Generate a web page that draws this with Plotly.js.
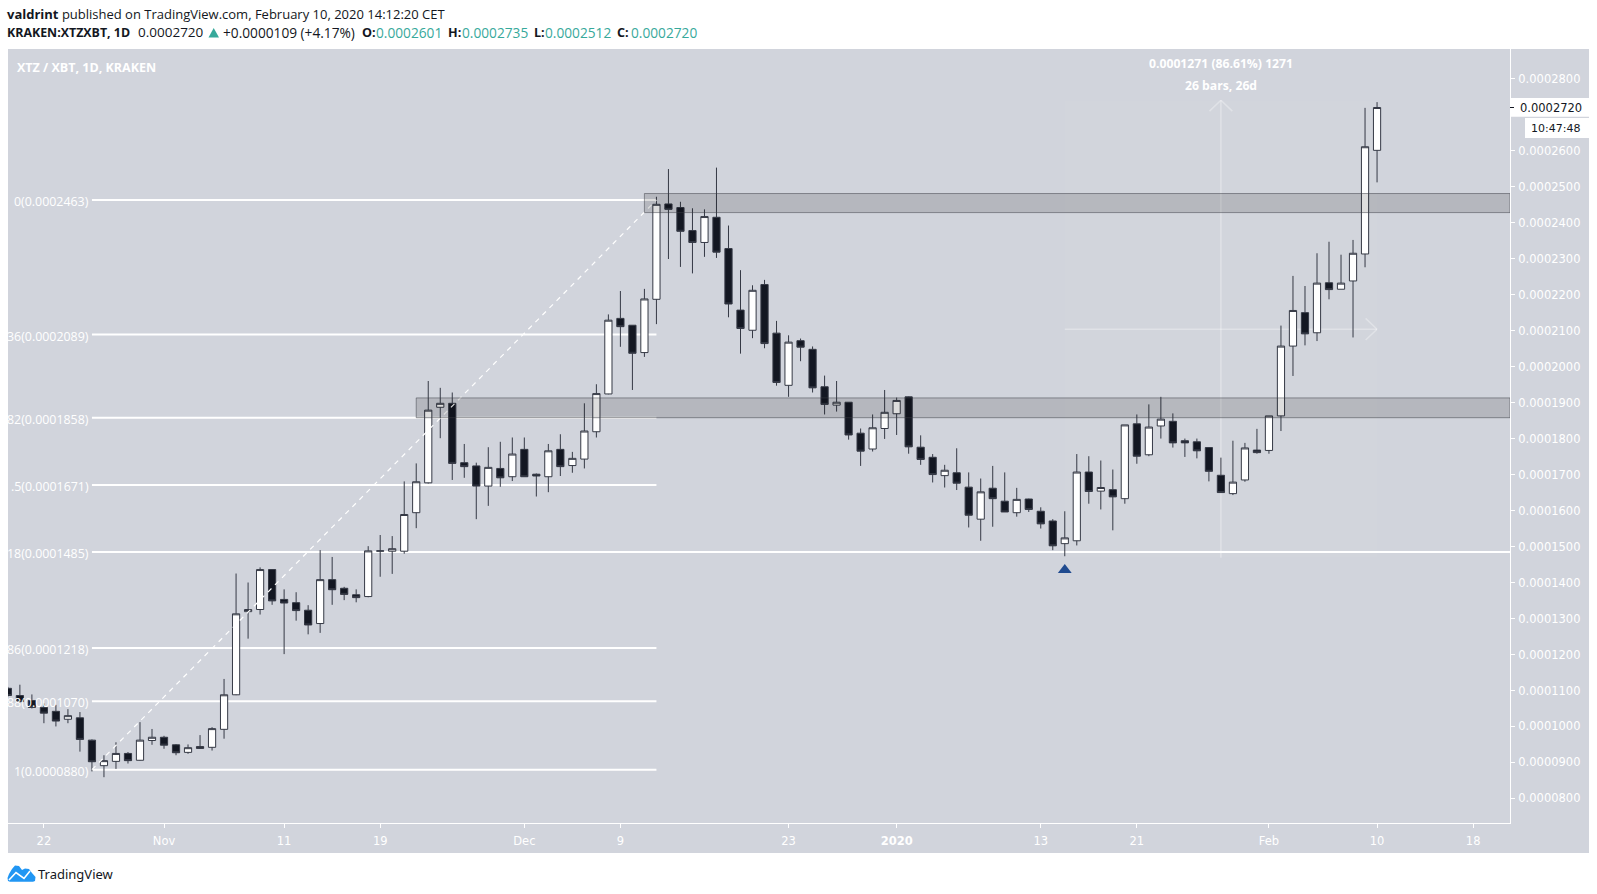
<!DOCTYPE html>
<html><head><meta charset="utf-8">
<script src="https://cdn.plot.ly/plotly-3.0.1.min.js"></script>
<style>html,body{margin:0;padding:0;background:#fff}#c{width:1597px;height:894px}</style>
</head><body><div id="c"></div>
<script>
const firstDay = '2019-10-19';
const openE7 = [1106,1086,1072,1053,1042,1020,1024,962,891,903,925,906,961,970,949,928,944,942,992,1088,1319,1325,1436,1353,1344,1323,1286,1408,1384,1366,1361,1487,1487,1487,
1594,1677,1887,1898,1733,1724,1668,1717,1694,1770,1701,1694,1770,1725,1743,1819,1924,2134,2115,2039,2187,2452,2442,2378,2345,2415,2328,2157,2101,2228,2093,1948,2072,2048,1944,1893,1901,1815,1771,1828,1869,1916,1776,1748,1697,1705,1665,1576,1662,1626,1594,1632,1598,1571,
1508,1516,1707,1654,1658,1633,1841,1755,1835,1848,1794,1791,1775,1698,1647,1685,1768,1767,1863,2057,2150,2094,2233,2215,2238,2313,2601];
const highE7 = [1110,1116,1089,1064,1060,1048,1040,964,920,956,929,1012,993,974,951,950,976,998,1132,1425,1400,1442,1437,1381,1373,1337,1490,1471,1388,1381,1501,1532,1529,1681,
1731,1960,1941,1928,1785,1733,1776,1791,1803,1803,1703,1785,1812,1763,1898,1951,2145,2210,2115,2216,2472,2549,2458,2440,2437,2553,2392,2268,2226,2241,2127,2087,2078,2056,1975,1960,1901,1828,1867,1935,1914,1917,1809,1757,1727,1773,1706,1689,1724,1706,1663,1633,1609,1576,
1598,1757,1751,1739,1714,1838,1867,1895,1916,1870,1800,1800,1775,1747,1794,1788,1827,1863,2114,2252,2224,2315,2347,2311,2352,2719,2735];
const lowE7 = [1083,1067,1050,1009,1000,1009,930,875,859,882,897,905,949,938,920,924,938,933,966,1087,1244,1311,1338,1201,1294,1256,1260,1338,1351,1345,1359,1416,1424,1480,
1551,1675,1801,1685,1691,1576,1613,1666,1682,1694,1639,1651,1696,1705,1717,1803,1923,2055,1935,2027,2118,2299,2277,2259,2305,2302,2137,2036,2079,2051,1947,1916,2015,1928,1867,1875,1797,1724,1764,1799,1810,1758,1727,1678,1664,1657,1553,1516,1555,1596,1583,1596,1550,1490,
1473,1503,1619,1603,1545,1619,1730,1751,1800,1775,1749,1745,1681,1650,1643,1680,1758,1758,1821,1974,2059,2071,2187,2215,2081,2276,2512];
const closeE7 = [1086,1069,1053,1037,1015,1030,964,902,905,925,905,962,970,948,927,941,939,994,1088,1313,1325,1436,1349,1343,1322,1282,1408,1380,1367,1358,1488,1488,1494,1589,
1680,1879,1898,1731,1722,1668,1720,1691,1757,1694,1696,1766,1722,1745,1821,1925,2129,2111,2037,2188,2451,2437,2376,2345,2417,2318,2174,2106,2212,2064,1956,2068,2054,1941,1895,1901,1810,1765,1830,1873,1906,1777,1742,1700,1712,1676,1587,1652,1633,1596,1631,1603,1563,1502,
1524,1707,1653,1664,1638,1838,1751,1832,1854,1788,1788,1766,1709,1650,1679,1774,1761,1863,2057,2156,2091,2232,2214,2232,2315,2611,2720];

const tickDates = ['2019-10-22','2019-11-01','2019-11-11','2019-11-19','2019-12-01','2019-12-09','2019-12-23','2020-01-01','2020-01-13','2020-01-21','2020-02-01','2020-02-10','2020-02-18'];
const tickLabels = ['22','Nov','11','19','Dec','9','23','<b>2020</b>','13','21','Feb','10','18'];
const priceTicks = [800,900,1000,1100,1200,1300,1400,1500,1600,1700,1800,1900,2000,2100,2200,2300,2400,2500,2600,2700,2800];

// fib tags as they show after the chart's left edge cuts them
const fibTags = ['0','36','82','.5','18','86','88','1'];
const fibPrices = [2463,2089,1858,1671,1485,1218,1070,880];
const fibFrom = '2019-10-26', fibTo = '2019-12-12';
const zonesE7 = [[2481,2428,'2019-12-11'],[1913,1858,'2019-11-22']];
const measure = {from:'2020-01-15', to:'2020-02-10', midDay:'2020-01-28', lowE7:1469, highE7:2740, midE7:2104};
const signalDay = '2020-01-15', signalE7 = 1435;

const p = v => v/1e7;
const MS = 864e5;
const t0 = Date.parse(firstDay+'T00:00:00Z');
const dates = openE7.map((_,i)=>new Date(t0+i*MS).toISOString().slice(0,10));
const iso = ms => new Date(ms).toISOString().replace('T',' ').slice(0,19);
const dd = (s,off)=>iso(Date.parse(s+'T00:00:00Z')+off*MS);
const xRange = [dd('2019-10-19',0.01), dd('2020-02-10',11.07)];
const yRange = [p(731.7), p(2882.6)];

const L=8,R=1510,T=49,B=823;
const px = x => (x-L)/(R-L), py = y => 1-(y-T)/(B-T);
const paperPath = (pts,close)=>'M '+pts.map(q=>px(q[0])+' '+py(q[1])).join(' L ')+(close?' Z':'');

const shapes=[];
const lineShape=(x0,y0,x1,y1,color,width,dash,layer)=>shapes.push({type:'line',xref:'x',yref:'y',x0,x1,y0:p(y0),y1:p(y1),line:{color,width,dash:dash||'solid'},layer:layer||'below'});
shapes.push({type:'rect',xref:'paper',yref:'paper',x0:px(8),x1:px(1589),y0:py(853),y1:py(49),fillcolor:'#d1d4dc',line:{width:0},layer:'below'});
shapes.push({type:'rect',xref:'x',yref:'y',x0:measure.from,x1:measure.to,y0:p(measure.lowE7),y1:p(measure.highE7),fillcolor:'rgba(255,255,255,0.025)',line:{width:0},layer:'below'});
fibPrices.forEach((v,i)=>lineShape(fibFrom,v,i===4?xRange[1]:fibTo,v,'#ffffff',2));
lineShape(fibFrom,880,fibTo,2463,'#ffffff',1.2,'5px,5px','above');
zonesE7.forEach(z=>shapes.push({type:'rect',xref:'x',yref:'y',x0:z[2],x1:xRange[1],y0:p(z[1]),y1:p(z[0]),fillcolor:'rgba(0,0,0,0.135)',line:{color:'rgba(60,62,70,0.5)',width:1},layer:'above'}));
const A='rgba(255,255,255,0.32)';
lineShape(measure.midDay,measure.lowE7,measure.midDay,measure.highE7,A,1.5,'solid','below');
lineShape(dd(measure.midDay,-0.95),measure.highE7-30,measure.midDay,measure.highE7,A,1.5,'solid','below');
lineShape(dd(measure.midDay,0.95),measure.highE7-30,measure.midDay,measure.highE7,A,1.5,'solid','below');
lineShape(measure.from,measure.midE7,measure.to,measure.midE7,A,1.5,'solid','below');
lineShape(dd(measure.to,-0.95),measure.midE7+30,measure.to,measure.midE7,A,1.5,'solid','below');
lineShape(dd(measure.to,-0.95),measure.midE7-30,measure.to,measure.midE7,A,1.5,'solid','below');
shapes.push({type:'rect',xref:'paper',yref:'paper',x0:px(1510.5),x1:px(1589),y0:py(116.7),y1:py(98),fillcolor:'#ffffff',line:{width:0},layer:'above'});
shapes.push({type:'rect',xref:'paper',yref:'paper',x0:px(1525),x1:px(1589),y0:py(138),y1:py(118),fillcolor:'#ffffff',line:{width:0},layer:'above'});
shapes.push({type:'line',xref:'paper',yref:'paper',x0:px(1510),x1:px(1514),y0:py(107.5),y1:py(107.5),line:{color:'#131722',width:1},layer:'above'});
shapes.push({type:'path',xref:'paper',yref:'paper',path:paperPath([[208.5,37.5],[219,37.5],[213.7,28]],true),fillcolor:'#37a99b',line:{width:0},layer:'above'});
shapes.push({type:'path',xref:'paper',yref:'paper',path:paperPath([[7.5,878],[9,874],[12,869],[15,865.5],[19,866],[22,870],[25,868.5],[29,869],[32,873],[35.5,877],[35,881],[33,881.7],[10,881.7],[8,881]],true),fillcolor:'#2196f3',line:{width:0},layer:'above'});
shapes.push({type:'path',xref:'paper',yref:'paper',path:paperPath([[9,880],[16,872.5],[24,878.5],[30,871]],false),fillcolor:'rgba(0,0,0,0)',line:{color:'#ffffff',width:1.6},layer:'above'});

const TXT='"Open Sans",sans-serif', AX='"DejaVu Sans",sans-serif', teal='#37a99b', ink='#131722';
const note=(x,y,text,size,color,anchor,family)=>({xref:'paper',yref:'paper',x:px(x),y:py(y),text,showarrow:false,xanchor:anchor||'left',yanchor:'middle',align:anchor||'left',font:{family:family||TXT,size,color},borderpad:0,borderwidth:0});
const LINE2=32.5;
const annotations=[
 note(7,14,'<b>valdrint</b> published on TradingView.com, February 10, 2020 14:12:20 CET',13,ink),
 note(7,LINE2,'<b>KRAKEN:XTZXBT, 1D</b>',12.4,ink),
 note(137.5,LINE2,'0.0002720',13.5,ink),
 note(222.5,LINE2,'+0.0000109 (+4.17%)',13.7,ink),
 note(361.5,LINE2,'<b>O:</b>',12.6,ink), note(376,LINE2,'0.0002601',13.7,teal),
 note(448.3,LINE2,'<b>H:</b>',12.6,ink), note(462.3,LINE2,'0.0002735',13.7,teal),
 note(534.3,LINE2,'<b>L:</b>',12.6,ink), note(545,LINE2,'0.0002512',13.7,teal),
 note(617.3,LINE2,'<b>C:</b>',12.6,ink), note(630.7,LINE2,'0.0002720',13.7,teal),
 note(17,67.5,'<b>XTZ / XBT, 1D, KRAKEN</b>',12.5,'#ffffff'),
 note(1220.5,63.5,'<b>0.0001271 (86.61%) 1271</b>',12.2,'#ffffff','center'),
 note(1220.5,85.5,'<b>26 bars, 26d</b>',12.2,'#ffffff','center'),
 note(1520,107.5,'0.0002720',11.5,ink,'left',AX),
 note(1580,128,'10:47:48',11,ink,'right',AX),
 note(37.5,873.5,'TradingView',13,ink,'left','"Noto Sans",sans-serif')
];
fibTags.forEach((r,i)=>annotations.push(note(88.5,200+(2463-fibPrices[i])/2.779+1.5,`${r}(${(fibPrices[i]/1e7).toFixed(7)})`,12.4,'#ffffff','right')));

const traces=[{
 type:'candlestick',x:dates,open:openE7.map(p),high:highE7.map(p),low:lowE7.map(p),close:closeE7.map(p),
 whiskerwidth:0,
 increasing:{line:{color:'#353945',width:1},fillcolor:'#ffffff'},
 decreasing:{line:{color:'#353945',width:1},fillcolor:'#131722'},
 hoverinfo:'skip',showlegend:false
},{
 type:'scatter',mode:'markers',x:[signalDay],y:[p(signalE7)],marker:{symbol:'triangle-up',size:12,color:'#1f4a8f'},hoverinfo:'skip',showlegend:false
}];

const layout={
 width:1597,height:894,paper_bgcolor:'#ffffff',plot_bgcolor:'#d1d4dc',showlegend:false,
 margin:{l:L,r:1597-R,t:T,b:894-B,pad:0},hovermode:false,boxgap:0.4,boxgroupgap:0,
 xaxis:{type:'date',range:xRange,rangeslider:{visible:false},tickmode:'array',tickvals:tickDates,ticktext:tickLabels,showgrid:false,zeroline:false,ticklabelstandoff:3,
  showline:true,linecolor:'#ffffff',linewidth:1,ticks:'outside',ticklen:4,tickcolor:'#ffffff',tickfont:{family:AX,size:11.5,color:'#ffffff'}},
 yaxis:{type:'linear',side:'right',range:yRange,tickmode:'array',tickvals:priceTicks.map(p),ticktext:priceTicks.map(v=>v===2700?'':p(v).toFixed(7)),showgrid:false,zeroline:false,ticklabelstandoff:1,
  showline:true,linecolor:'#ffffff',linewidth:1,ticks:'outside',ticklen:4,tickcolor:'#ffffff',tickfont:{family:AX,size:11.5,color:'#ffffff'}},
 shapes,annotations
};
Plotly.newPlot('c',traces,layout,{displayModeBar:false,staticPlot:true});
</script></body></html>
